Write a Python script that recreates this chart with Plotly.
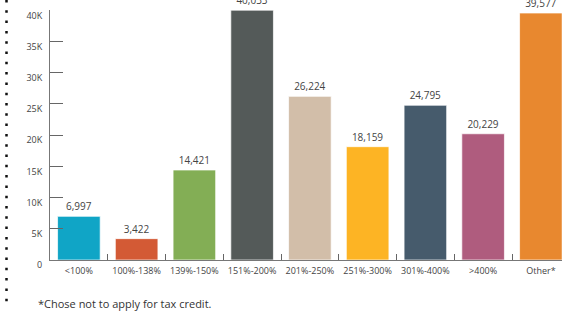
import plotly.graph_objects as go

categories = ["<100%", "100%-138%", "139%-150%", "151%-200%", "201%-250%",
              "251%-300%", "301%-400%", ">400%", "Other*"]
values = [6997, 3422, 14421, 40033, 26224, 18159, 24795, 20229, 39577]
colors = ["#10A5C6", "#D35A35", "#83AE55", "#545A59", "#D2BEA9",
          "#FDB424", "#465B6C", "#AF5C7E", "#E8882F"]
tick_vals = [0, 5000, 10000, 15000, 20000, 25000, 30000, 35000, 40000]
tick_text = ["0", "5K", "10K", "15K", "20K", "25K", "30K", "35K", "40K"]
footnote = "*Chose not to apply for tax credit."

W, H = 562, 313
ML, MR, MT, MB = 50, 0, 10, 53
PW, PH = W - ML - MR, H - MT - MB

fig = go.Figure(go.Bar(
    x=categories, y=values,
    marker=dict(color=colors, line=dict(color="rgba(255,255,255,0.7)", width=1)),
    text=[f"{v:,}" for v in values],
    textposition="outside",
    textfont=dict(family="Open Sans", size=10, color="#444444"),
    cliponaxis=False,
    hoverinfo="skip",
))

fig.update_layout(
    width=W, height=H,
    margin=dict(l=ML, r=MR, t=MT, b=MB),
    paper_bgcolor="white", plot_bgcolor="white",
    bargap=0.262,
    showlegend=False,
    font=dict(family="Open Sans", color="#444444"),
)

fig.update_xaxes(
    range=[-0.5, -0.5 + PW / 57.75],
    showline=True, linecolor="#777777", linewidth=1,
    ticks="inside", tickson="boundaries", ticklen=6, tickcolor="#666666", tickwidth=1,
    tickfont=dict(family="Open Sans", size=9, color="#444444"),
    ticklabeloverflow="allow", ticklabelstandoff=2,
    showgrid=False, zeroline=False,
)
fig.update_yaxes(
    range=[0, 40060],
    tickvals=tick_vals, ticktext=tick_text,
    showline=True, linecolor="#777777", linewidth=1,
    ticks="inside", ticklen=13, tickcolor="#666666", tickwidth=1,
    tickfont=dict(family="Open Sans", size=9, color="#444444"),
    ticklabelshift=5, ticklabelstandoff=5, ticklabeloverflow="allow",
    showgrid=False, zeroline=False,
)

# dotted decorative border on the left
x_dots = (6.5 - ML) / PW
fig.add_shape(type="line", xref="paper", yref="paper",
              x0=x_dots, x1=x_dots,
              y0=(H - MB - 0) / PH, y1=(H - MB - 303) / PH,
              line=dict(color="#111111", width=2.5, dash="2.5px,7.8px"))

fig.add_annotation(text=footnote, xref="paper", yref="paper",
                   x=(36 - ML) / PW, y=(H - MB - 303) / PH,
                   xanchor="left", yanchor="middle", showarrow=False,
                   font=dict(family="Open Sans", size=11, color="#333333"))

fig.write_html("out.html", config={"displayModeBar": False},
               post_script="document.body.style.margin='0';document.body.style.overflow='hidden';")
